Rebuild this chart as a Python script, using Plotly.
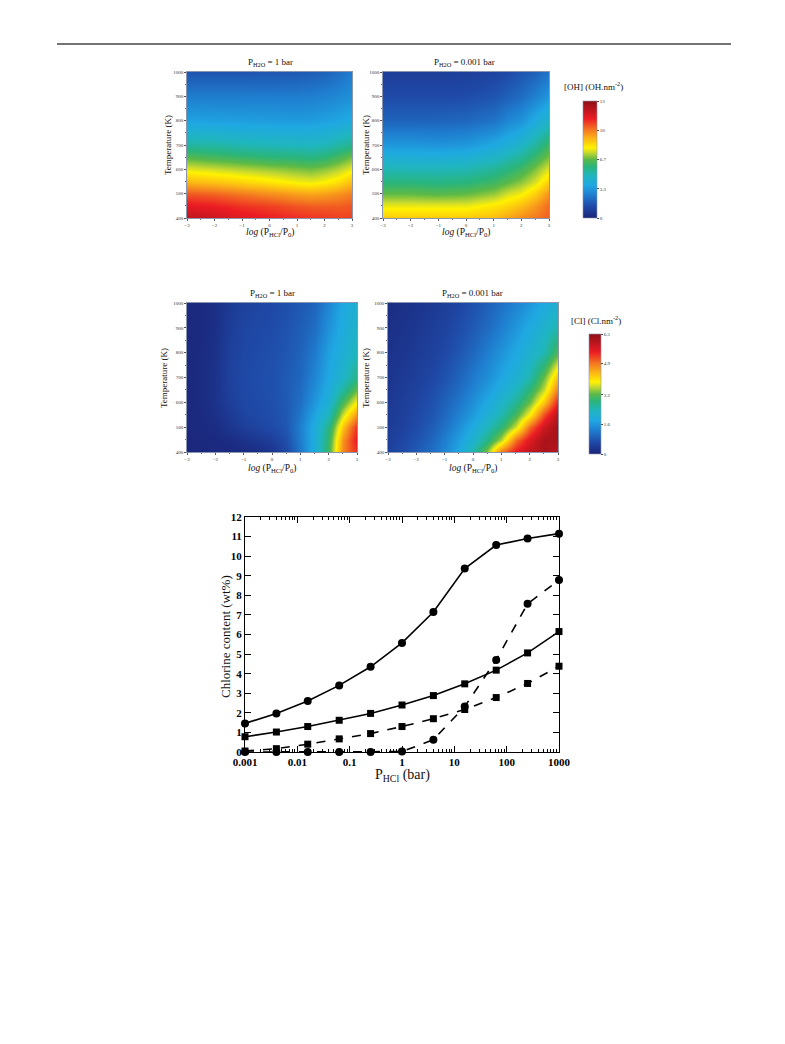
import plotly.graph_objects as go

PAGE_W, PAGE_H = 785, 1044
OFF = 8  # browser body margin
W, H = PAGE_W - OFF, PAGE_H - OFF
SERIF = "Liberation Serif"

# ---------------- data ----------------
oh_log_ratio = [-3, -2, -1, 0, 1, 1.5, 2, 2.5, 3]
oh_temperature = [400, 450, 500, 550, 600, 650, 700, 800, 900, 1000]

oh_1bar = [
    [12.3, 12.0, 11.6, 11.3, 11.1, 11.0, 10.9, 10.8, 10.8],
    [11.5, 11.3, 11.0, 10.8, 10.5, 10.4, 10.4, 10.4, 10.5],
    [10.5, 10.3, 10.0, 9.7, 9.4, 9.3, 9.4, 9.6, 9.9],
    [9.0, 8.8, 8.5, 8.2, 7.9, 7.8, 8.0, 8.3, 8.9],
    [7.7, 7.5, 7.3, 7.1, 6.9, 6.8, 7.0, 7.3, 7.8],
    [6.5, 6.3, 6.1, 5.9, 5.8, 5.7, 5.9, 6.3, 6.8],
    [5.3, 5.2, 5.0, 4.9, 4.8, 4.75, 4.9, 5.2, 5.6],
    [3.6, 3.55, 3.5, 3.45, 3.4, 3.45, 3.55, 3.7, 3.9],
    [2.6, 2.6, 2.6, 2.6, 2.6, 2.65, 2.75, 2.9, 3.1],
    [1.6, 1.6, 1.6, 1.65, 1.7, 1.8, 1.95, 2.2, 2.6],
]

oh_0001bar = [
    [8.7, 8.7, 8.7, 8.7, 8.9, 9.3, 9.7, 10.0, 10.4],
    [7.8, 7.8, 7.8, 7.8, 8.2, 8.5, 8.9, 9.5, 10.2],
    [6.7, 6.7, 6.6, 6.7, 7.1, 7.6, 7.9, 8.6, 9.6],
    [5.8, 5.8, 5.7, 5.8, 6.2, 6.6, 7.0, 7.6, 8.6],
    [5.0, 4.9, 4.9, 5.0, 5.4, 5.8, 6.2, 6.9, 7.7],
    [4.2, 4.1, 4.1, 4.2, 4.6, 5.0, 5.4, 6.1, 6.9],
    [3.3, 3.3, 3.2, 3.3, 3.8, 4.2, 4.6, 5.3, 6.2],
    [2.0, 2.0, 2.0, 2.1, 2.4, 2.9, 3.2, 3.9, 4.6],
    [1.3, 1.3, 1.3, 1.35, 1.6, 1.9, 2.2, 2.7, 3.3],
    [0.9, 0.9, 0.9, 0.95, 1.1, 1.3, 1.6, 1.9, 2.4],
]

cl_log_ratio = [-3, -2.5, -2, -1.5, -1, -0.5, 0, 0.5, 1, 1.5, 2, 2.5, 3]
cl_temperature = [400, 450, 500, 550, 600, 650, 700, 800, 900, 1000]

cl_1bar = [
    [0.05, 0.06, 0.08, 0.10, 0.12, 0.18, 0.30, 0.60, 1.20, 2.00, 3.10, 4.80, 5.40],
    [0.06, 0.08, 0.10, 0.15, 0.25, 0.35, 0.45, 0.70, 1.25, 2.00, 3.00, 4.70, 5.60],
    [0.08, 0.10, 0.15, 0.30, 0.45, 0.55, 0.65, 0.80, 1.30, 1.95, 2.80, 4.30, 5.40],
    [0.08, 0.11, 0.20, 0.38, 0.55, 0.62, 0.68, 0.82, 1.20, 1.80, 2.40, 3.70, 4.70],
    [0.08, 0.12, 0.25, 0.45, 0.60, 0.65, 0.70, 0.85, 1.10, 1.60, 2.10, 3.10, 3.90],
    [0.08, 0.12, 0.25, 0.48, 0.62, 0.67, 0.72, 0.85, 1.05, 1.50, 1.95, 2.60, 3.30],
    [0.08, 0.12, 0.25, 0.50, 0.62, 0.68, 0.72, 0.85, 1.00, 1.40, 1.85, 2.25, 2.80],
    [0.08, 0.12, 0.22, 0.48, 0.60, 0.66, 0.70, 0.80, 0.95, 1.25, 1.75, 2.05, 2.40],
    [0.08, 0.10, 0.20, 0.42, 0.56, 0.62, 0.66, 0.75, 0.88, 1.10, 1.55, 1.95, 2.20],
    [0.08, 0.10, 0.18, 0.38, 0.50, 0.56, 0.62, 0.70, 0.82, 0.98, 1.40, 1.85, 2.10],
]

cl_0001bar = [
    [0.50, 0.65, 0.85, 1.10, 1.40, 1.85, 2.50, 3.40, 4.90, 5.60, 6.00, 6.20, 6.00],
    [0.45, 0.58, 0.75, 0.98, 1.30, 1.70, 2.15, 2.75, 3.55, 4.95, 5.70, 6.20, 6.20],
    [0.40, 0.50, 0.65, 0.87, 1.15, 1.50, 1.90, 2.35, 2.85, 3.70, 5.00, 5.85, 6.30],
    [0.37, 0.47, 0.60, 0.78, 1.03, 1.33, 1.68, 2.05, 2.45, 3.10, 3.95, 5.20, 6.10],
    [0.35, 0.44, 0.55, 0.72, 0.95, 1.20, 1.50, 1.85, 2.20, 2.65, 3.30, 4.25, 5.50],
    [0.32, 0.40, 0.50, 0.65, 0.85, 1.08, 1.36, 1.65, 1.98, 2.33, 2.90, 3.65, 4.90],
    [0.30, 0.37, 0.46, 0.58, 0.76, 0.98, 1.25, 1.50, 1.80, 2.10, 2.50, 3.30, 4.40],
    [0.25, 0.31, 0.39, 0.49, 0.62, 0.80, 1.02, 1.28, 1.55, 1.85, 2.15, 2.45, 3.20],
    [0.20, 0.26, 0.33, 0.42, 0.53, 0.67, 0.85, 1.05, 1.30, 1.60, 1.90, 2.20, 2.50],
    [0.15, 0.20, 0.27, 0.35, 0.45, 0.57, 0.72, 0.90, 1.12, 1.35, 1.60, 1.85, 2.10],
]

log_ticks = [-3, -2, -1, 0, 1, 2, 3]
temp_ticks = [400, 500, 600, 700, 800, 900, 1000]
oh_ticks = [0, 3.3, 6.7, 10, 13.3]
oh_tick_text = ["0", "3.3", "6.7", "10", "13"]
cl_ticks = [0, 1.6, 3.2, 4.9, 6.5]
cl_tick_text = ["0", "1.6", "3.2", "4.9", "6.5"]

p_hcl = [0.001, 0.00398, 0.0158, 0.0631, 0.251, 1.0, 3.98, 15.8, 63.1, 251.0, 1000.0]
cl_wt_solid_circle = [1.46, 1.97, 2.6, 3.4, 4.35, 5.57, 7.15, 9.37, 10.57, 10.9, 11.15]
cl_wt_solid_square = [0.78, 1.02, 1.3, 1.62, 1.97, 2.4, 2.88, 3.48, 4.18, 5.06, 6.15]
cl_wt_dashed_square = [0.05, 0.17, 0.4, 0.67, 0.94, 1.3, 1.7, 2.17, 2.78, 3.5, 4.38]
cl_wt_dashed_circle = [0.0, 0.0, 0.0, 0.0, 0.0, 0.02, 0.63, 2.32, 4.7, 7.57, 8.78]
p_ticks = [0.001, 0.01, 0.1, 1, 10, 100, 1000]
p_tick_text = ["0.001", "0.01", "0.1", "1", "10", "100", "1000"]


# ---------------- helpers ----------------
def px(x):
    return (x - OFF) / W


def py(y):
    return 1 - (y - OFF) / H


CS = [
    [0.0, "#1a2478"], [0.1, "#1f4aa8"], [0.2, "#1f7fd0"], [0.28, "#1fa8e2"],
    [0.36, "#1fb5c0"], [0.44, "#2ab57a"], [0.5, "#5cb947"], [0.56, "#c8d92e"],
    [0.6, "#fff200"], [0.68, "#fbb416"], [0.75, "#f47a20"], [0.85, "#ec1c24"],
    [1.0, "#8e0f16"],
]

fig = go.Figure()

panels = [
    (oh_log_ratio, oh_temperature, oh_1bar, "coloraxis", "x", "y"),
    (oh_log_ratio, oh_temperature, oh_0001bar, "coloraxis", "x2", "y2"),
    (cl_log_ratio, cl_temperature, cl_1bar, "coloraxis2", "x3", "y3"),
    (cl_log_ratio, cl_temperature, cl_0001bar, "coloraxis2", "x4", "y4"),
]
for xs, ys, z, ca, xa, ya in panels:
    fig.add_trace(go.Heatmap(x=xs, y=ys, z=z, coloraxis=ca, zsmooth="best",
                             xaxis=xa, yaxis=ya, hoverinfo="skip"))

line_specs = [
    (cl_wt_solid_circle, "solid", "circle", 8),
    (cl_wt_solid_square, "solid", "square", 7),
    (cl_wt_dashed_square, "dash", "square", 7),
    (cl_wt_dashed_circle, "dash", "circle", 8),
]
for yv, dash, sym, ms in line_specs:
    fig.add_trace(go.Scatter(x=p_hcl, y=yv, mode="lines+markers", xaxis="x5", yaxis="y5",
                             line=dict(color="black", width=1.6, dash=dash),
                             marker=dict(symbol=sym, size=ms, color="black"),
                             cliponaxis=False, showlegend=False))

hm_common = dict(showgrid=False, zeroline=False, ticks="outside", ticklen=2, tickwidth=0.5,
                 tickcolor="#555", tickfont=dict(size=5, family=SERIF, color="#333"),
                 showline=True, linecolor="#8a96b0", linewidth=0.6, mirror=True,
                 automargin=False)


def hm_x(x0, x1, anchor):
    return dict(hm_common, domain=[px(x0), px(x1)], range=[-3, 3], tickvals=log_ticks,
                anchor=anchor,
                minor=dict(ticks="outside", ticklen=1, dtick=0.5, tickcolor="#777"))


def hm_y(y0, y1, anchor):
    return dict(hm_common, domain=[py(y1), py(y0)], range=[400, 1000], tickvals=temp_ticks,
                anchor=anchor,
                minor=dict(ticks="outside", ticklen=1, dtick=50, tickcolor="#777"))


minor_vals = [m * 10 ** e for e in range(-3, 3) for m in range(2, 10)]
line_font = dict(family=SERIF, size=11, color="black", weight="bold")

fig.update_layout(
    width=W, height=H, template="none",
    margin=dict(l=0, r=0, t=0, b=0),
    paper_bgcolor="white", plot_bgcolor="white",
    showlegend=False,
    xaxis=hm_x(187, 352, "y"),
    yaxis=hm_y(72, 218, "x"),
    xaxis2=hm_x(383, 549, "y2"),
    yaxis2=hm_y(72, 218, "x2"),
    xaxis3=hm_x(187, 357, "y3"),
    yaxis3=hm_y(303, 452, "x3"),
    xaxis4=hm_x(388, 558, "y4"),
    yaxis4=hm_y(303, 452, "x4"),
    xaxis5=dict(domain=[px(245), px(559)], anchor="y5", type="log", range=[-3, 3],
                tickmode="array", tickvals=p_ticks, ticktext=p_tick_text,
                ticks="inside", ticklen=6, tickwidth=1, tickcolor="black",
                minor=dict(ticks="inside", ticklen=3, tickmode="array", tickvals=minor_vals,
                           tickcolor="black", showgrid=False),
                showline=True, linecolor="black", linewidth=1, mirror="allticks",
                showgrid=False, zeroline=False, automargin=False, tickfont=line_font),
    yaxis5=dict(domain=[py(752), py(517)], anchor="x5", range=[0, 12], dtick=1, tick0=0,
                ticks="inside", ticklen=6, tickwidth=1, tickcolor="black",
                showline=True, linecolor="black", linewidth=1, mirror="allticks",
                showgrid=False, zeroline=False, automargin=False, tickfont=line_font),
    coloraxis=dict(colorscale=CS, cmin=0, cmax=13.3,
                   colorbar=dict(x=px(583), xanchor="left", y=py(101), yanchor="top",
                                 len=117, lenmode="pixels", thickness=14, thicknessmode="pixels",
                                 xpad=0, ypad=0, outlinewidth=0.6, outlinecolor="#8a96b0",
                                 tickmode="array", tickvals=oh_ticks, ticktext=oh_tick_text,
                                 ticks="outside", ticklen=2, tickwidth=0.5,
                                 tickfont=dict(size=5, family=SERIF, color="#333"))),
    coloraxis2=dict(colorscale=CS, cmin=0, cmax=6.5,
                    colorbar=dict(x=px(589), xanchor="left", y=py(334), yanchor="top",
                                  len=120, lenmode="pixels", thickness=12, thicknessmode="pixels",
                                  xpad=0, ypad=0, outlinewidth=0.6, outlinecolor="#8a96b0",
                                  tickmode="array", tickvals=cl_ticks, ticktext=cl_tick_text,
                                  ticks="outside", ticklen=2, tickwidth=0.5,
                                  tickfont=dict(size=5, family=SERIF, color="#333"))),
)

# page rule
fig.add_shape(type="line", xref="paper", yref="paper", x0=px(57), x1=px(731),
              y0=py(44), y1=py(44), line=dict(color="#444", width=1.5))

ann = []


def add_text(x, y, text, size, angle=0, weight="normal"):
    ann.append(dict(x=px(x), y=py(y), xref="paper", yref="paper", text=text,
                    showarrow=False, textangle=angle, xanchor="center", yanchor="middle",
                    font=dict(family=SERIF, size=size, color="#111", weight=weight)))


# heatmap titles
add_text(270, 62, "P<sub>H2O</sub> = 1 bar", 9)
add_text(464, 62, "P<sub>H2O</sub> = 0.001 bar", 9)
add_text(272, 293, "P<sub>H2O</sub> = 1 bar", 9)
add_text(472, 293, "P<sub>H2O</sub> = 0.001 bar", 9)
# heatmap axis titles
xlab = "<i>log</i> (P<sub>HCl</sub>/P<sub>0</sub>)"
add_text(270, 233, xlab, 9.5)
add_text(466, 233, xlab, 9.5)
add_text(272, 468, xlab, 9.5)
add_text(473, 468, xlab, 9.5)
add_text(168, 145, "Temperature (K)", 9, -90)
add_text(366, 145, "Temperature (K)", 9, -90)
add_text(164, 378, "Temperature (K)", 9, -90)
add_text(366, 378, "Temperature (K)", 9, -90)
# colorbar titles
add_text(593, 86, "[OH] (OH.nm<sup>-2</sup>)", 9)
add_text(596, 320, "[Cl] (Cl.nm<sup>-2</sup>)", 9)
# line chart titles
add_text(225, 636, "Chlorine content (wt%)", 13, -90)
add_text(402, 775, "P<sub>HCl</sub> (bar)", 14)

fig.update_layout(annotations=ann)

fig.write_html("out.html")
